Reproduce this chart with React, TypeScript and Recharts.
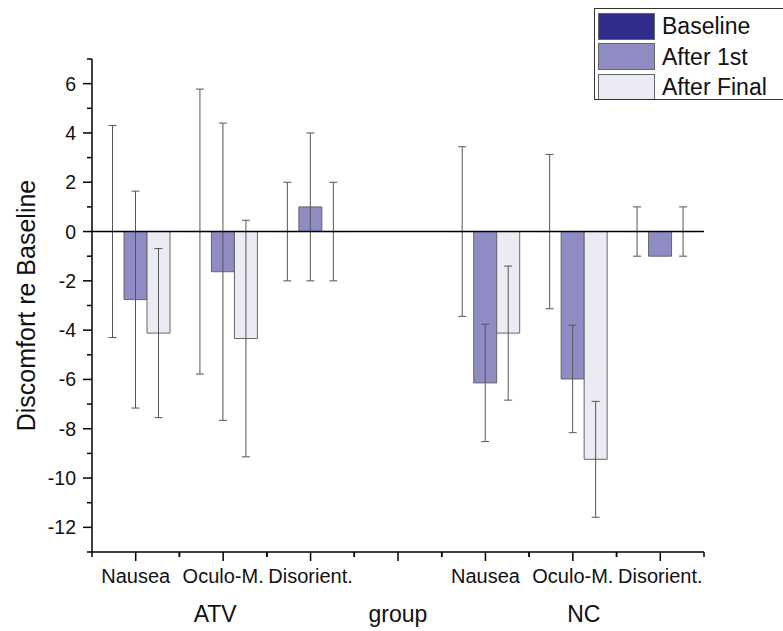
import React from 'react';
import { BarChart, Bar, XAxis, YAxis, ErrorBar, ReferenceLine, Legend } from 'recharts';

const categories = ['Nausea', 'Oculo-M.', 'Disorient.', '', 'Nausea', 'Oculo-M.', 'Disorient.'];
const groupLabels = ['', 'ATV', '', 'group', '', 'NC', ''];
const groupShift = [0, -8, 0, 0, 0, 11, 0];

const baseline = [0, 0, 0, null, 0, 0, 0];
const baselineErr = [4.3, 5.78, 2, null, 3.44, 3.13, 1];
const after1st = [-2.76, -1.63, 1, null, -6.14, -5.98, -1];
const after1stErr = [4.4, 6.03, 3, null, 2.38, 2.18, null];
const afterFinal = [-4.12, -4.34, 0, null, -4.12, -9.24, 0];
const afterFinalErr = [3.43, 4.8, 2, null, 2.72, 2.35, 1];

const yTicks = [-13, -12, -11, -10, -9, -8, -7, -6, -5, -4, -3, -2, -1, 0, 1, 2, 3, 4, 5, 6, 7];

const series = [
  { key: 'baseline', err: 'baselineErr', name: 'Baseline', color: '#2f2c8c' },
  { key: 'after1st', err: 'after1stErr', name: 'After 1st', color: '#8f8cc4' },
  { key: 'afterFinal', err: 'afterFinalErr', name: 'After Final', color: '#ebebf4' },
];

const data = categories.map((cat, i) => ({
  cat,
  baseline: baseline[i],
  baselineErr: baselineErr[i],
  after1st: after1st[i],
  after1stErr: after1stErr[i],
  afterFinal: afterFinal[i],
  afterFinalErr: afterFinalErr[i],
}));

const FONT = '"Liberation Sans", Arial, sans-serif';
const W = 783;
const H = 631;
const LEFT = 92;
const RIGHT = 79;
const BAND = (W - LEFT - RIGHT) / categories.length;

const XTick = (props: any) => {
  const { x, y, payload, index } = props;
  const half = BAND / 2;
  return (
    <g>
      <line x1={x} y1={y} x2={x} y2={y + 9} stroke="#000" strokeWidth={1.5} />
      <line x1={x - half} y1={y} x2={x - half} y2={y + 5} stroke="#000" strokeWidth={1.5} />
      <line x1={x + half} y1={y} x2={x + half} y2={y + 5} stroke="#000" strokeWidth={1.5} />
      <text x={x} y={y + 31} textAnchor="middle" fontSize={20} fontFamily={FONT} fill="#111">
        {payload.value}
      </text>
      {groupLabels[index] ? (
        <text x={x + groupShift[index]} y={y + 70} textAnchor="middle" fontSize={23} fontFamily={FONT} fill="#111">
          {groupLabels[index]}
        </text>
      ) : null}
    </g>
  );
};

const YTick = (props: any) => {
  const { x, y, payload } = props;
  const major = payload.value % 2 === 0;
  return (
    <g>
      <line x1={x - (major ? 9 : 5)} y1={y} x2={x} y2={y} stroke="#000" strokeWidth={1.5} />
      {major ? (
        <text x={x - 16} y={y + 7} textAnchor="end" fontSize={19.5} fontFamily={FONT} fill="#111">
          {payload.value}
        </text>
      ) : null}
    </g>
  );
};

const YLabel = (props: any) => {
  const { viewBox } = props;
  const cy = viewBox.y + viewBox.height / 2;
  return (
    <text
      x={35}
      y={cy}
      transform={`rotate(-90, 35, ${cy})`}
      textAnchor="middle"
      fontSize={25}
      fontFamily={FONT}
      fill="#111"
    >
      Discomfort re Baseline
    </text>
  );
};

const LegendBox = () => (
  <div
    style={{
      border: '1.5px solid #333',
      background: '#fff',
      width: 186,
      height: 88,
      overflow: 'hidden',
      padding: '2px 0 0 3px',
      fontFamily: FONT,
      boxSizing: 'content-box',
    }}
  >
    {series.map((s) => (
      <div key={s.key} style={{ display: 'flex', alignItems: 'center', height: 30.5 }}>
        <div
          style={{
            width: 57,
            height: 27,
            background: s.color,
            border: '1px solid #666',
            boxSizing: 'border-box',
            flexShrink: 0,
          }}
        />
        <span style={{ marginLeft: 7, fontSize: 23, color: '#111', lineHeight: '24px', whiteSpace: 'nowrap' }}>
          {s.name}
        </span>
      </div>
    ))}
  </div>
);

export default function App() {
  return (
    <div style={{ position: 'absolute', left: 0, top: 0, background: '#fff' }}>
      <BarChart
        width={W}
        height={H}
        data={data}
        margin={{ top: 59, right: RIGHT, left: 0, bottom: 0 }}
        barSize={23}
        barGap={0}
      >
        <XAxis
          dataKey="cat"
          height={79}
          axisLine={{ stroke: '#000', strokeWidth: 1.5 }}
          tickLine={false}
          tickSize={0}
          tickMargin={0}
          interval={0}
          tick={<XTick />}
        />
        <YAxis
          width={LEFT}
          domain={[-13, 7]}
          ticks={yTicks}
          interval={0}
          allowDataOverflow
          axisLine={{ stroke: '#000', strokeWidth: 1.5 }}
          tickLine={false}
          tickSize={0}
          tickMargin={0}
          tick={<YTick />}
          label={<YLabel />}
        />
        {series.map((s) => (
          <Bar
            key={s.key}
            dataKey={s.key}
            name={s.name}
            fill={s.color}
            stroke="#666"
            strokeWidth={1}
            minPointSize={0.01}
            isAnimationActive={false}
          >
            <ErrorBar dataKey={s.err} width={4} stroke="#555" strokeWidth={1} direction="y" isAnimationActive={false} />
          </Bar>
        ))}
        <ReferenceLine y={0} stroke="#000" strokeWidth={1.5} />
        <Legend
          layout="vertical"
          align="center"
          verticalAlign="middle"
          content={<LegendBox />}
          wrapperStyle={{ top: 8, left: 594, width: 190 }}
        />
      </BarChart>
    </div>
  );
}
